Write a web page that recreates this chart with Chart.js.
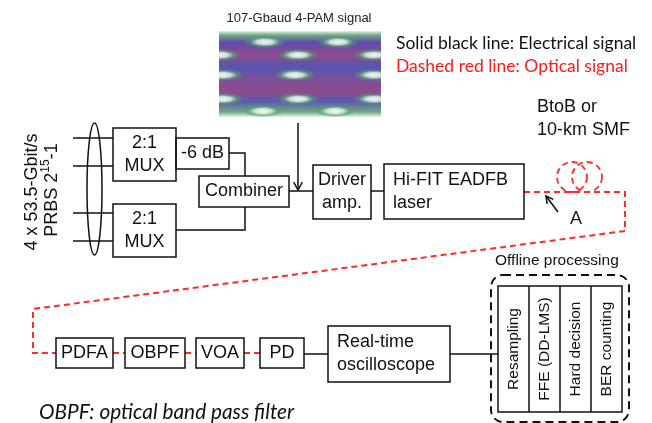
<!DOCTYPE html>
<html>
<head>
<meta charset="utf-8">
<script src="https://cdn.jsdelivr.net/npm/chart.js"></script>
<style>
  html, body { margin: 0; padding: 0; background: #fff; }
  canvas { display: block; }
</style>
</head>
<body>
<canvas id="setup-chart" width="652" height="423"></canvas>
<script>
// Experimental setup diagram drawn on a Chart.js scatter canvas
// (diagram units = pixels of the original figure, y grows downwards)

// Blocks of the setup
const boxLabels = [
  ["2:1", "MUX"], ["-6 dB"], ["Combiner"], ["2:1", "MUX"], ["Driver", "amp."],
  ["Hi-FIT EADFB", "laser"], ["PDFA"], ["OBPF"], ["VOA"], ["PD"], ["Real-time", "oscilloscope"],
]
const boxLeft = [113, 176, 199, 113, 313, 384, 56, 125, 196, 260, 328]
const boxTop = [128, 138, 176, 204, 165, 164, 338, 338, 338, 338, 326]
const boxRight = [176, 229, 289, 176, 371, 524, 113, 185, 244, 304, 450]
const boxBottom = [181, 169, 207, 257, 219, 219, 368, 368, 368, 368, 382]
const boxAlignLeft = [false, false, false, false, false, true, false, false, false, false, true]

// Offline processing steps
const dspSteps = ["Resampling", "FFE (DD-LMS)", "Hard decision", "BER counting"]
const dspEdges = [498, 529, 560, 591, 622]

// Electrical connections (solid black)
const electricalWires = [
  [[73, 138], [113, 138]],
  [[73, 166], [113, 166]],
  [[73, 213], [113, 213]],
  [[73, 241], [113, 241]],
  [[229, 153], [245, 153], [245, 176]],
  [[176, 230], [245, 230], [245, 207]],
  [[289, 191], [313, 191]],
  [[371, 191], [384, 191]],
  [[304, 354], [328, 354]],
  [[450, 354], [498, 354]],
]

// Optical connections (dashed red)
const opticalWires = [
  [[524, 192], [625, 192], [625, 231], [33, 309], [33, 353], [56, 353]],
  [[113, 353], [125, 353]],
  [[185, 353], [196, 353]],
  [[244, 353], [260, 353]],
]

// Eye diagram openings (centre x, centre y)
const eyeOpenX = [265, 338, 220, 298, 374, 223, 295, 374, 223, 298, 374, 263, 335]
const eyeOpenY = [42, 42, 55, 55, 55, 75, 75, 75, 99, 99, 99, 111, 111]

const ARIAL = '"Liberation Sans", Arial, sans-serif'
const LATO = 'Lato, "Open Sans", sans-serif'

function px(chart, x) { return chart.scales.x.getPixelForValue(x) }
function py(chart, y) { return chart.scales.y.getPixelForValue(y) }

function rotatedText(ctx, text, x, y) {
  ctx.save()
  ctx.translate(x, y)
  ctx.rotate(-Math.PI / 2)
  ctx.fillText(text, 0, 0)
  ctx.restore()
}

function arrowHead(ctx, tx, ty, fx, fy, len) {
  const a = Math.atan2(ty - fy, tx - fx)
  ctx.beginPath()
  ctx.moveTo(tx - len * Math.cos(a - 0.5), ty - len * Math.sin(a - 0.5))
  ctx.lineTo(tx, ty)
  ctx.lineTo(tx - len * Math.cos(a + 0.5), ty - len * Math.sin(a + 0.5))
  ctx.stroke()
}

function drawEye(chart, ctx) {
  const x0 = px(chart, 219), x1 = px(chart, 381)
  const y0 = py(chart, 31), y1 = py(chart, 117)
  const g = ctx.createLinearGradient(0, y0, 0, y1)
  g.addColorStop(0, "#e2f0e4")
  g.addColorStop(0.05, "#6fa882")
  g.addColorStop(0.13, "#5f4cae")
  g.addColorStop(0.28, "#8e4a8c")
  g.addColorStop(0.42, "#5556b2")
  g.addColorStop(0.55, "#7a4f9e")
  g.addColorStop(0.7, "#904a88")
  g.addColorStop(0.82, "#5a5ab0")
  g.addColorStop(0.94, "#6fa882")
  g.addColorStop(1, "#e6f2e8")
  ctx.fillStyle = g
  ctx.fillRect(x0, y0, x1 - x0, y1 - y0)
  // openings of the eye
  ctx.save()
  ctx.beginPath()
  ctx.rect(x0, y0, x1 - x0, y1 - y0)
  ctx.clip()
  for (let i = 0; i < eyeOpenX.length; i++) {
    const cx = px(chart, eyeOpenX[i]), cy = py(chart, eyeOpenY[i])
    ctx.save()
    ctx.translate(cx, cy)
    ctx.scale(1, 0.3)
    const rg = ctx.createRadialGradient(0, 0, 0, 0, 0, 21)
    rg.addColorStop(0, "rgba(250,255,250,0.95)")
    rg.addColorStop(0.4, "rgba(220,242,226,0.85)")
    rg.addColorStop(0.7, "rgba(80,165,110,0.6)")
    rg.addColorStop(1, "rgba(80,165,110,0)")
    ctx.fillStyle = rg
    ctx.beginPath()
    ctx.arc(0, 0, 21, 0, Math.PI * 2)
    ctx.fill()
    ctx.restore()
  }
  ctx.restore()
  ctx.fillStyle = "#222"
  ctx.font = "13px " + ARIAL
  ctx.textAlign = "center"
  ctx.textBaseline = "middle"
  ctx.fillText("107-Gbaud 4-PAM signal", px(chart, 299), py(chart, 18))
}

const diagramPlugin = {
  id: "diagram",
  afterDatasetsDraw(chart) {
    const ctx = chart.ctx
    ctx.save()
    ctx.strokeStyle = "#111"
    ctx.fillStyle = "#111"
    ctx.lineWidth = 1.5

    // Blocks
    for (let i = 0; i < boxLabels.length; i++) {
      const l = px(chart, boxLeft[i]), t = py(chart, boxTop[i])
      const r = px(chart, boxRight[i]), b = py(chart, boxBottom[i])
      ctx.strokeRect(l, t, r - l, b - t)
      ctx.font = "18px " + ARIAL
      ctx.textBaseline = "middle"
      ctx.textAlign = boxAlignLeft[i] ? "left" : "center"
      const tx = boxAlignLeft[i] ? l + 9 : (l + r) / 2
      const lines = boxLabels[i]
      const cy = (t + b) / 2
      lines.forEach((s, k) => {
        ctx.fillText(s, tx, cy + (k - (lines.length - 1) / 2) * 23)
      })
    }

    // MUX input bundle
    ctx.beginPath()
    ctx.ellipse(px(chart, 94.5), py(chart, 189), 7.5, 66, 0, 0, Math.PI * 2)
    ctx.stroke()
    ctx.font = "18px " + ARIAL
    ctx.textAlign = "center"
    rotatedText(ctx, "4 x 53.5-Gbit/s", px(chart, 32), py(chart, 192))
    // PRBS 2^15-1 with superscript
    ctx.save()
    ctx.translate(px(chart, 52), py(chart, 190))
    ctx.rotate(-Math.PI / 2)
    ctx.textAlign = "left"
    ctx.font = "18px " + ARIAL
    const w1 = ctx.measureText("PRBS 2").width
    const w3 = ctx.measureText("-1").width
    ctx.font = "12px " + ARIAL
    const w2 = ctx.measureText("15").width
    const sx = -(w1 + w2 + w3) / 2
    ctx.font = "18px " + ARIAL
    ctx.fillText("PRBS 2", sx, 0)
    ctx.font = "12px " + ARIAL
    ctx.fillText("15", sx + w1, -6)
    ctx.font = "18px " + ARIAL
    ctx.fillText("-1", sx + w1 + w2, 0)
    ctx.restore()

    // Eye diagram and its arrow
    drawEye(chart, ctx)
    ctx.beginPath()
    ctx.moveTo(px(chart, 298), py(chart, 123))
    ctx.lineTo(px(chart, 298), py(chart, 190))
    ctx.stroke()
    arrowHead(ctx, px(chart, 298), py(chart, 190), px(chart, 298), py(chart, 123), 9)

    // Point A
    ctx.beginPath()
    ctx.moveTo(px(chart, 558), py(chart, 212))
    ctx.lineTo(px(chart, 546), py(chart, 196))
    ctx.stroke()
    arrowHead(ctx, px(chart, 546), py(chart, 196), px(chart, 558), py(chart, 212), 8)
    ctx.font = "18px " + ARIAL
    ctx.textAlign = "center"
    ctx.fillText("A", px(chart, 576), py(chart, 219))

    // Fiber coil
    ctx.strokeStyle = "#ff2a2a"
    ctx.lineWidth = 1.8
    ctx.setLineDash([6, 4])
    ;[572, 587].forEach((cx) => {
      ctx.beginPath()
      ctx.arc(px(chart, cx), py(chart, 177), 15, 0, Math.PI * 2)
      ctx.stroke()
    })
    ctx.setLineDash([])
    ctx.fillStyle = "#111"
    ctx.textAlign = "left"
    ctx.font = "18px " + ARIAL
    ctx.fillText("BtoB or", px(chart, 537), py(chart, 107))
    ctx.fillText("10-km SMF", px(chart, 537), py(chart, 130))

    // Legend
    ctx.font = "17.5px " + LATO
    ctx.fillText("Solid black line: Electrical signal", px(chart, 396), py(chart, 43))
    ctx.fillStyle = "#ff1a1a"
    ctx.fillText("Dashed red line: Optical signal", px(chart, 396), py(chart, 66))

    // Offline processing
    ctx.fillStyle = "#111"
    ctx.strokeStyle = "#111"
    ctx.font = "15.5px " + ARIAL
    ctx.fillText("Offline processing", px(chart, 495), py(chart, 261))
    ctx.lineWidth = 2
    ctx.setLineDash([8, 5])
    ctx.beginPath()
    ctx.roundRect(px(chart, 491), py(chart, 275), px(chart, 629) - px(chart, 491), py(chart, 422) - py(chart, 275), 12)
    ctx.stroke()
    ctx.setLineDash([])
    ctx.lineWidth = 1.5
    const dt = py(chart, 286), db = py(chart, 412)
    ctx.strokeRect(px(chart, dspEdges[0]), dt, px(chart, dspEdges[4]) - px(chart, dspEdges[0]), db - dt)
    ctx.textAlign = "center"
    for (let i = 0; i < dspSteps.length; i++) {
      if (i > 0) {
        ctx.beginPath()
        ctx.moveTo(px(chart, dspEdges[i]), dt)
        ctx.lineTo(px(chart, dspEdges[i]), db)
        ctx.stroke()
      }
      rotatedText(ctx, dspSteps[i], (px(chart, dspEdges[i]) + px(chart, dspEdges[i + 1])) / 2, py(chart, 349))
    }

    // Footnote
    ctx.textAlign = "left"
    ctx.font = "italic 20.8px " + LATO
    ctx.fillText("OBPF: optical band pass filter", px(chart, 39), py(chart, 412))
    ctx.restore()
  },
}

function wireDataset(points, color, dash, width) {
  return {
    data: points.map(([x, y]) => ({ x, y })),
    showLine: true,
    borderColor: color,
    borderWidth: width,
    borderDash: dash,
    pointRadius: 0,
    tension: 0,
    fill: false,
  }
}

const datasets = [
  ...electricalWires.map((w) => wireDataset(w, "#111", [], 1.5)),
  ...opticalWires.map((w) => wireDataset(w, "#ff2a2a", [6, 4], 2)),
]

new Chart(document.getElementById("setup-chart").getContext("2d"), {
  type: "scatter",
  data: { datasets },
  options: {
    responsive: false,
    animation: false,
    devicePixelRatio: 1,
    layout: { padding: 0 },
    plugins: { legend: { display: false }, tooltip: { enabled: false } },
    scales: {
      x: { type: "linear", min: 0, max: 652, display: false },
      y: { type: "linear", min: 0, max: 423, reverse: true, display: false },
    },
  },
  plugins: [diagramPlugin],
})
</script>
</body>
</html>
